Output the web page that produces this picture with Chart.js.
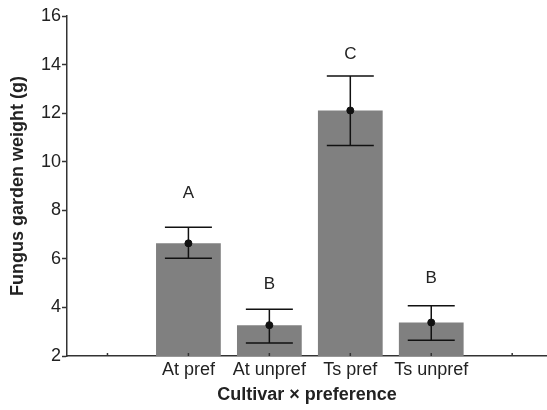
<!DOCTYPE html>
<html>
<head>
<meta charset="utf-8">
<script src="https://cdn.jsdelivr.net/npm/chart.js@4.4.1/dist/chart.umd.min.js"></script>
<style>
    body { margin: 0; background: #fff; }
</style>
</head>
<body>
<canvas id="gardenChart" width="547" height="410"></canvas>
<script>
Chart.defaults.font.family = '"Liberation Sans", Arial, sans-serif';
Chart.defaults.color = '#222';

// data
const categories = ['', 'At pref', 'At unpref', 'Ts pref', 'Ts unpref', ''];
const barPositions = [1, 2, 3, 4];
const meanWeight = [6.64, 3.27, 12.11, 3.38];
const upperError = [7.30, 3.92, 13.53, 4.07];
const lowerError = [6.02, 2.54, 10.67, 2.65];
const groupLetters = ['A', 'B', 'C', 'B'];
const letterLevels = [8.68, 4.94, 14.43, 5.21];
const yTicks = [2, 4, 6, 8, 10, 12, 14, 16];

const colors = {
    bar: '#808080',
    ink: '#111',
    axis: '#333'
};

const errorBarPlugin = {
    id: 'errorBars',
    afterDatasetDraw(chart, args) {
        if (args.index !== 0) return;
        const ctx = chart.ctx;
        const x = chart.scales.x;
        const y = chart.scales.y;
        const capHalf = 23.5;
        ctx.save();
        ctx.strokeStyle = colors.ink;
        ctx.lineWidth = 1.5;
        barPositions.forEach((pos, i) => {
            const px = x.getPixelForValue(pos);
            const top = y.getPixelForValue(upperError[i]);
            const bottom = y.getPixelForValue(lowerError[i]);
            ctx.beginPath();
            ctx.moveTo(px, top);
            ctx.lineTo(px, bottom);
            ctx.moveTo(px - capHalf, top);
            ctx.lineTo(px + capHalf, top);
            ctx.moveTo(px - capHalf, bottom);
            ctx.lineTo(px + capHalf, bottom);
            ctx.stroke();
        });
        ctx.restore();
    },
    afterDraw(chart) {
        const ctx = chart.ctx;
        const x = chart.scales.x;
        const y = chart.scales.y;
        ctx.save();
        // letters above the bars
        ctx.fillStyle = '#222';
        ctx.font = '17px "Liberation Sans", Arial, sans-serif';
        ctx.textAlign = 'center';
        ctx.textBaseline = 'middle';
        barPositions.forEach((pos, i) => {
            ctx.fillText(groupLetters[i], x.getPixelForValue(pos), y.getPixelForValue(letterLevels[i]));
        });
        // small inward ticks on the x axis
        ctx.strokeStyle = colors.axis;
        ctx.lineWidth = 1.5;
        const base = chart.chartArea.bottom;
        categories.forEach((c, i) => {
            const px = x.getPixelForValue(i);
            ctx.beginPath();
            ctx.moveTo(px, base);
            ctx.lineTo(px, base - 3);
            ctx.stroke();
        });
        ctx.restore();
    }
};

const ctx = document.getElementById('gardenChart').getContext('2d');

new Chart(ctx, {
    data: {
        datasets: [{
            type: 'bar',
            order: 2,
            data: barPositions.map((pos, i) => ({ x: pos, y: meanWeight[i] })),
            backgroundColor: colors.bar,
            borderWidth: 0,
            barPercentage: 0.8,
            categoryPercentage: 1.0
        }, {
            type: 'scatter',
            order: 1,
            data: barPositions.map((pos, i) => ({ x: pos, y: meanWeight[i] })),
            backgroundColor: colors.ink,
            borderColor: colors.ink,
            pointRadius: 3.5
        }]
    },
    options: {
        responsive: false,
        animation: false,
        layout: {
            autoPadding: false,
            padding: { top: 16, right: 0, left: 0, bottom: 0 }
        },
        plugins: {
            legend: { display: false },
            tooltip: { enabled: false }
        },
        scales: {
            x: {
                type: 'linear',
                offset: false,
                min: -0.5,
                max: 5.43,
                afterBuildTicks: scale => {
                    scale.ticks = categories.map((c, i) => ({ value: i }));
                },
                afterFit: scale => { scale.height = 54; },
                ticks: {
                    callback: value => categories[value],
                    font: { size: 18 },
                    color: '#222',
                    padding: 3,
                    maxRotation: 0,
                    autoSkip: false
                },
                grid: { display: false, drawTicks: false, offset: false },
                border: { color: colors.axis, width: 1.5 },
                title: {
                    display: true,
                    text: 'Cultivar × preference',
                    font: { size: 18, weight: 'bold' },
                    color: '#222',
                    padding: { top: 0, bottom: 4 }
                }
            },
            y: {
                min: 2,
                max: 16,
                afterBuildTicks: scale => {
                    scale.ticks = yTicks.map(v => ({ value: v }));
                },
                afterFit: scale => { scale.width = 67; },
                ticks: {
                    font: { size: 18 },
                    color: '#222',
                    padding: 1
                },
                grid: {
                    drawOnChartArea: false,
                    tickLength: 5,
                    tickColor: colors.axis,
                    tickWidth: 1.5
                },
                border: { color: colors.axis, width: 1.5 },
                title: {
                    display: true,
                    text: 'Fungus garden weight (g)',
                    font: { size: 18, weight: 'bold' },
                    color: '#222',
                    padding: { top: 7, bottom: 0 }
                }
            }
        }
    },
    plugins: [errorBarPlugin]
});
</script>
</body>
</html>
